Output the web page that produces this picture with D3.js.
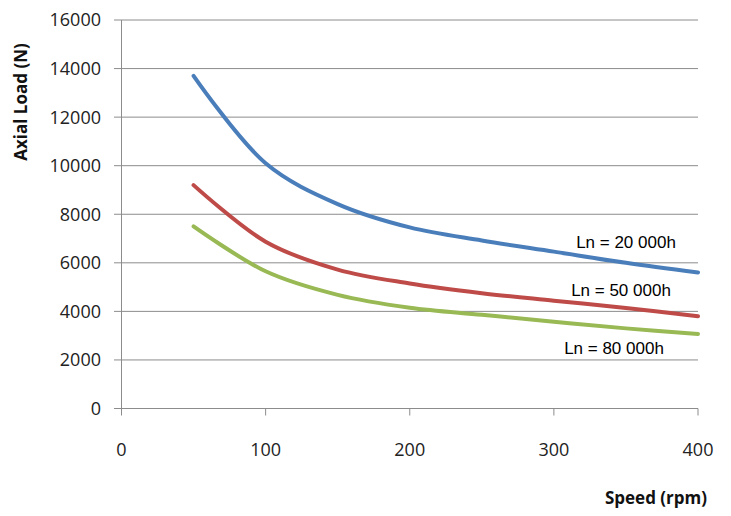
<!DOCTYPE html>
<html>
<head>
<meta charset="utf-8">
<script src="https://cdn.jsdelivr.net/npm/d3@7"></script>
<style>
  body { margin: 0; background: #fff; }
  svg { display: block; }
</style>
</head>
<body>
<div id="chart"></div>
<script>
const speed = [50, 100, 150, 200, 250, 300, 350, 400];
const ln20000 = [13700, 10100, 8420, 7460, 6920, 6460, 6000, 5600];
const ln50000 = [9200, 6870, 5720, 5150, 4750, 4440, 4140, 3800];
const ln80000 = [7500, 5650, 4680, 4150, 3860, 3575, 3300, 3070];
const seriesNames = ["Ln = 20 000h", "Ln = 50 000h", "Ln = 80 000h"];
const seriesColors = ["#4a7ebb", "#be4b48", "#98b954"];
const xTicks = [0, 100, 200, 300, 400];
const yTicks = [0, 2000, 4000, 6000, 8000, 10000, 12000, 14000, 16000];

const width = 731, height = 516;
const x = d3.scaleLinear().domain([0, 400]).range([121.5, 698]);
const y = d3.scaleLinear().domain([0, 16000]).range([408.5, 20]);

const svg = d3.select("#chart").append("svg")
  .attr("width", width)
  .attr("height", height)
  .style("font-family", "'Open Sans', sans-serif");

// horizontal grid
svg.append("g")
  .selectAll("line")
  .data(yTicks)
  .join("line")
  .attr("x1", 114).attr("x2", x(400))
  .attr("y1", d => y(d)).attr("y2", d => y(d))
  .attr("stroke", "#8c8c8c")
  .attr("stroke-width", 1);

// y axis line
svg.append("line")
  .attr("x1", x(0)).attr("x2", x(0))
  .attr("y1", y(16000)).attr("y2", y(0) + 7)
  .attr("stroke", "#8c8c8c");

// x tick marks
svg.append("g")
  .selectAll("line")
  .data(xTicks.slice(1))
  .join("line")
  .attr("x1", d => x(d)).attr("x2", d => x(d))
  .attr("y1", y(0)).attr("y2", y(0) + 7)
  .attr("stroke", "#8c8c8c");

// y tick labels
svg.append("g")
  .selectAll("text")
  .data(yTicks)
  .join("text")
  .attr("x", 101)
  .attr("y", d => y(d))
  .attr("dy", "0.36em")
  .attr("text-anchor", "end")
  .attr("font-size", 18)
  .attr("fill", "#222")
  .text(d => d);

// x tick labels
svg.append("g")
  .selectAll("text")
  .data(xTicks)
  .join("text")
  .attr("x", d => x(d))
  .attr("y", 450)
  .attr("dy", "0.36em")
  .attr("text-anchor", "middle")
  .attr("font-size", 18)
  .attr("fill", "#222")
  .text(d => d);

// axis titles
svg.append("text")
  .attr("transform", `translate(27,102) rotate(-90)`)
  .attr("text-anchor", "middle")
  .attr("font-size", 17)
  .attr("font-weight", "bold")
  .attr("fill", "#111")
  .text("Axial Load (N)");

svg.append("text")
  .attr("x", 707)
  .attr("y", 498)
  .attr("dy", "0.36em")
  .attr("text-anchor", "end")
  .attr("font-size", 17)
  .attr("font-weight", "bold")
  .attr("fill", "#111")
  .text("Speed (rpm)");

// lines
const series = [ln20000, ln50000, ln80000];
const line = d3.line()
  .x((d, i) => x(speed[i]))
  .y(d => y(d))
  .curve(d3.curveCatmullRom.alpha(0.5));

svg.append("g")
  .selectAll("path")
  .data(series)
  .join("path")
  .attr("d", d => line(d))
  .attr("fill", "none")
  .attr("stroke", (d, i) => seriesColors[i])
  .attr("stroke-width", 4)
  .attr("stroke-linecap", "round");

// series labels
const labelPos = [[626, 242], [621, 290], [614, 348]];
svg.append("g")
  .selectAll("text")
  .data(seriesNames)
  .join("text")
  .attr("x", (d, i) => labelPos[i][0])
  .attr("y", (d, i) => labelPos[i][1])
  .attr("dy", "0.36em")
  .attr("text-anchor", "middle")
  .attr("font-family", "'Liberation Sans', Arial, sans-serif")
  .attr("font-size", 17)
  .attr("fill", "#000")
  .text(d => d);
</script>
</body>
</html>
